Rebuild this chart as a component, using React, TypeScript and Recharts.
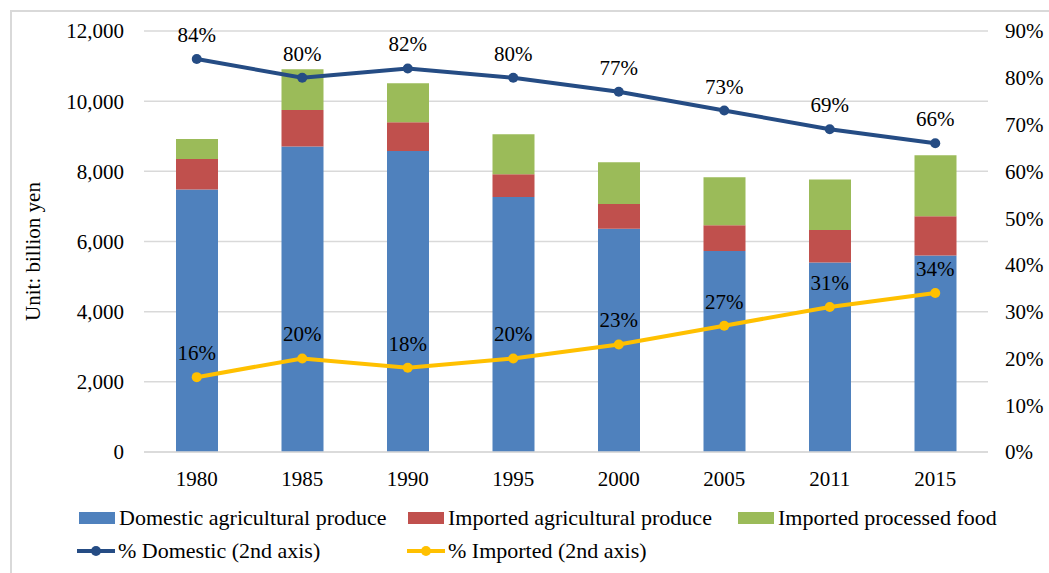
import React from "react";
import { ComposedChart, Bar, Line, XAxis, YAxis, CartesianGrid, LabelList } from "recharts";

const years = ["1980", "1985", "1990", "1995", "2000", "2005", "2011", "2015"];
const domesticProduce = [7480, 8710, 8580, 7270, 6360, 5730, 5400, 5600];
const importedProduce = [870, 1040, 820, 650, 710, 730, 930, 1120];
const importedProcessed = [570, 1160, 1110, 1140, 1190, 1370, 1440, 1740];
const pctDomestic = [84, 80, 82, 80, 77, 73, 69, 66];
const pctImported = [16, 20, 18, 20, 23, 27, 31, 34];
const leftTicks = [0, 2000, 4000, 6000, 8000, 10000, 12000];
const rightTicks = [0, 10, 20, 30, 40, 50, 60, 70, 80, 90];

const data = years.map((y, i) => ({
  year: y,
  dom: domesticProduce[i],
  impAg: importedProduce[i],
  impProc: importedProcessed[i],
  pDom: pctDomestic[i],
  pImp: pctImported[i],
}));

const FONT = "'Liberation Serif', 'Times New Roman', serif";
const C_BLUE = "#4F81BD";
const C_RED = "#C0504D";
const C_GREEN = "#9BBB59";
const C_DARK = "#254C84";
const C_YELLOW = "#FFC000";

const tickStyle = { fill: "#000", fontSize: 21, fontFamily: FONT };

function LegendRect({ x, y, color, label }: { x: number; y: number; color: string; label: string }) {
  return (
    <div style={{ position: "absolute", left: x, top: y, display: "flex", alignItems: "center", whiteSpace: "nowrap" }}>
      <svg width={36} height={12} style={{ display: "block" }}>
        <rect x={0} y={0} width={36} height={12} fill={color} />
      </svg>
      <span style={{ marginLeft: 4, fontSize: 22, fontFamily: FONT, color: "#000", lineHeight: "24px" }}>{label}</span>
    </div>
  );
}

function LegendLine({ x, y, color, label }: { x: number; y: number; color: string; label: string }) {
  return (
    <div style={{ position: "absolute", left: x, top: y, display: "flex", alignItems: "center", whiteSpace: "nowrap" }}>
      <svg width={38} height={12} style={{ display: "block" }}>
        <line x1={0} y1={6} x2={38} y2={6} stroke={color} strokeWidth={4} />
        <circle cx={19} cy={6} r={5} fill={color} />
      </svg>
      <span style={{ marginLeft: 3, fontSize: 22, fontFamily: FONT, color: "#000", lineHeight: "24px" }}>{label}</span>
    </div>
  );
}

const AxisTitle = (props: any) => {
  const vb = props.viewBox || {};
  const cx = 33;
  const cy = (vb.y ?? 31) + (vb.height ?? 421) / 2 + 10;
  return (
    <text x={cx} y={cy} transform={`rotate(-90 ${cx} ${cy})`} textAnchor="middle" dominantBaseline="central"
      fill="#000" fontSize={21} fontFamily={FONT}>
      Unit: billion yen
    </text>
  );
};

export default function App() {
  return (
    <div style={{ position: "absolute", left: 0, top: 0, width: 1049, height: 573, overflow: "hidden", background: "#fff", fontFamily: FONT }}>
      <div style={{ position: "absolute", left: 10, top: 10, width: 1100, height: 600, borderLeft: "2px solid #d9d9d9", borderTop: "2px solid #d9d9d9", boxSizing: "border-box" }} />
      <div style={{ position: "absolute", left: 0, top: 0 }}>
        <ComposedChart width={1049} height={573} data={data} margin={{ top: 31, right: 0, bottom: 91, left: 0 }} barCategoryGap={0}>
          <CartesianGrid yAxisId="left" vertical={false} stroke="#d9d9d9" strokeWidth={1.5} />
          <XAxis dataKey="year" height={30} tickLine={false} axisLine={{ stroke: "#d9d9d9", strokeWidth: 1.5 }} tick={tickStyle} tickSize={0} tickMargin={19} />
          <YAxis yAxisId="left" width={144} domain={[0, 12000]} ticks={leftTicks} tickLine={false} axisLine={false} tickSize={0} tickMargin={20}
            tick={tickStyle} tickFormatter={(v: number) => v.toLocaleString("en-US")}
            label={<AxisTitle />} />
          <YAxis yAxisId="right" orientation="right" width={61} domain={[0, 90]} ticks={rightTicks} tickLine={false} axisLine={false} tickSize={0} tickMargin={17}
            tick={{ ...tickStyle, textAnchor: "start" }} tickFormatter={(v: number) => `${v}%`} />
          <Bar yAxisId="left" dataKey="dom" stackId="a" fill={C_BLUE} barSize={42} isAnimationActive={false} />
          <Bar yAxisId="left" dataKey="impAg" stackId="a" fill={C_RED} barSize={42} isAnimationActive={false} />
          <Bar yAxisId="left" dataKey="impProc" stackId="a" fill={C_GREEN} barSize={42} isAnimationActive={false} />
          <Line yAxisId="right" dataKey="pDom" stroke={C_DARK} strokeWidth={4} dot={{ r: 5, fill: C_DARK, stroke: C_DARK, strokeWidth: 0 }} isAnimationActive={false}>
            <LabelList dataKey="pDom" position="top" offset={17} formatter={(v: number) => `${v}%`} fill="#000" fontSize={21} fontFamily={FONT} />
          </Line>
          <Line yAxisId="right" dataKey="pImp" stroke={C_YELLOW} strokeWidth={4} dot={{ r: 5, fill: C_YELLOW, stroke: C_YELLOW, strokeWidth: 0 }} isAnimationActive={false}>
            <LabelList dataKey="pImp" position="top" offset={17} formatter={(v: number) => `${v}%`} fill="#000" fontSize={21} fontFamily={FONT} />
          </Line>
        </ComposedChart>
      </div>
      <LegendRect x={79} y={506} color={C_BLUE} label="Domestic agricultural produce" />
      <LegendRect x={408} y={506} color={C_RED} label="Imported agricultural produce" />
      <LegendRect x={738} y={506} color={C_GREEN} label="Imported processed food" />
      <LegendLine x={77} y={539} color={C_DARK} label="% Domestic (2nd axis)" />
      <LegendLine x={407} y={539} color={C_YELLOW} label="% Imported (2nd axis)" />
    </div>
  );
}
